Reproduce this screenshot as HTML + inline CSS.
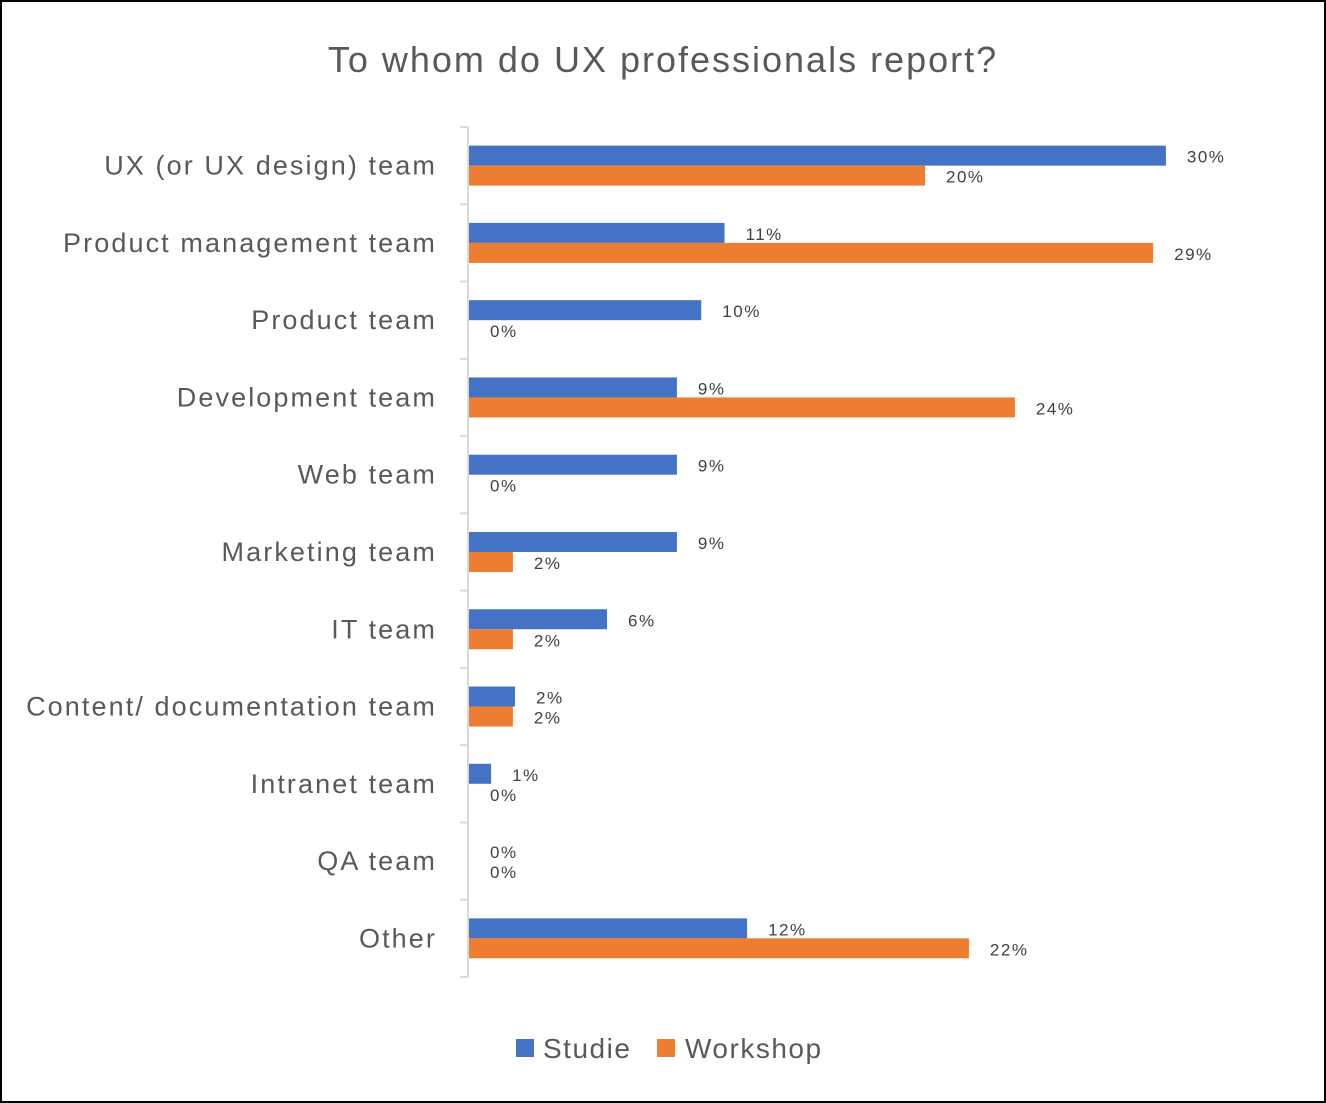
<!DOCTYPE html>
<html><head><meta charset="utf-8"><style>
html,body{margin:0;padding:0;background:#fff;}
svg{display:block;}
text{font-family:"Liberation Sans",sans-serif;}
</style></head><body>
<svg id="chart" width="1326" height="1103" viewBox="0 0 1326 1103">
<rect x="1" y="1" width="1324" height="1101" fill="#fff" stroke="#000" stroke-width="2"/>
<text x="663" y="72" text-anchor="middle" font-size="36" letter-spacing="2" fill="#595959">To whom do UX professionals report?</text>
<g id="plot"></g>
<g>
<rect x="516" y="1039" width="18" height="18" fill="#4472c4"/>
<text x="543" y="1058" font-size="28" letter-spacing="1.5" fill="#595959">Studie</text>
<rect x="657" y="1039" width="18" height="18" fill="#ed7d31"/>
<text x="685" y="1058" font-size="28" letter-spacing="1.5" fill="#595959">Workshop</text>
</g>
</svg>
<script>
const categories = ["UX (or UX design) team","Product management team","Product team","Development team","Web team","Marketing team","IT team","Content/ documentation team","Intranet team","QA team","Other"];
const studie = [30.0, 11.0, 10.0, 8.95, 8.95, 8.95, 5.94, 1.98, 0.95, 0, 11.97];
const workshop = [19.63, 29.45, 0, 23.5, 0, 1.89, 1.89, 1.89, 0, 0, 21.52];

const NS = "http://www.w3.org/2000/svg";
const g = document.getElementById("plot");
const x0 = 469, pxPer = 23.23;
const yTop = 127, band = 77.27;
function xScale(v){ return x0 + v * pxPer; }
function yBand(i){ return yTop + i * band; }
function mk(tag, attrs){ const e = document.createElementNS(NS, tag); for (const k in attrs) e.setAttribute(k, attrs[k]); g.appendChild(e); return e; }

const ax = mk("line", {x1:x0-1, y1:yTop, x2:x0-1, y2:yBand(categories.length), stroke:"#d9d9d9", "stroke-width":2});


for (let i = 0; i <= categories.length; i++) {
  const t = mk("line", {x1:x0-9, y1:yBand(i), x2:x0-1, y2:yBand(i), stroke:"#d9d9d9", "stroke-width":2});
  
  
}
categories.forEach((c, i) => {
  const cy = yBand(i) + band / 2;
  const lab = mk("text", {x:437, y:cy + 9, "text-anchor":"end", "font-size":27, "letter-spacing":2.1, fill:"#595959"});
  lab.textContent = c;
  
  
  const series = [[studie[i], "#4472c4", cy - 20, "studie"], [workshop[i], "#ed7d31", cy, "workshop"]];
  series.forEach(([v, col, y, nm]) => {
    const w = xScale(v) - x0;
    if (w > 0) {
      const r = mk("rect", {x:x0, y:y, width:w, height:20, fill:col});
      
      
    }
    const t = mk("text", {x:xScale(v) + 21, y:y + 17, "font-size":17, "letter-spacing":1.5, fill:"#404040"});
    t.textContent = Math.round(v) + "%";
    
    
  });
});
</script>
</body></html>
